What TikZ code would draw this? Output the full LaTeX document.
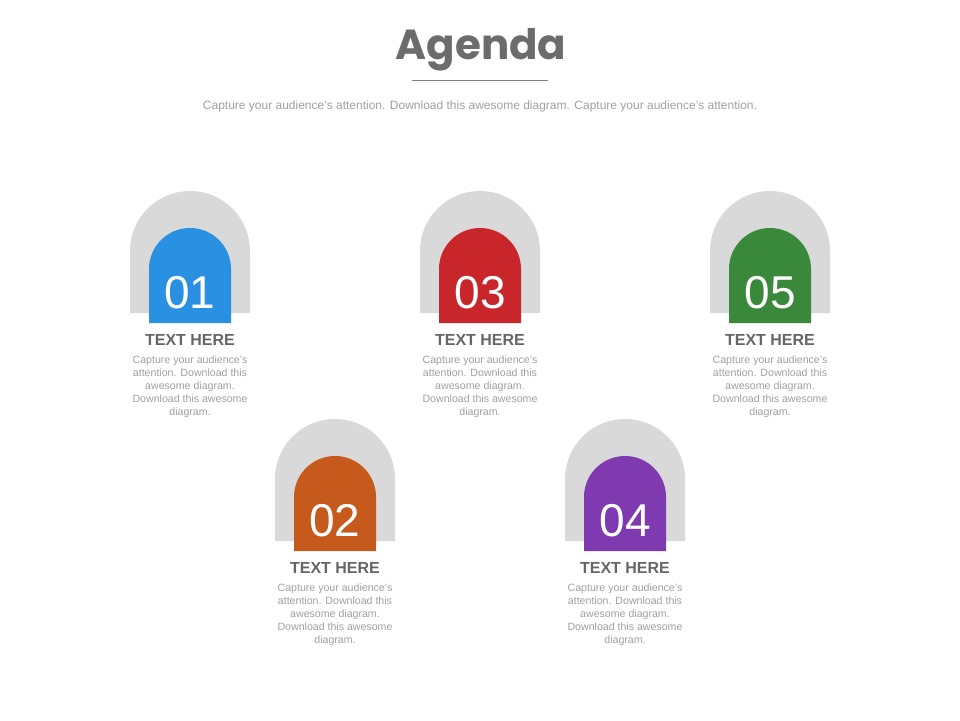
\documentclass[tikz,border=0pt]{standalone}
\usepackage{fontspec}
\setmainfont{Liberation Sans}
\newfontfamily\agendafont{Poppins}
\usepackage{tikz}
\usetikzlibrary{positioning}
\definecolor{archgrey}{RGB}{217,217,217}
\definecolor{titlegrey}{RGB}{108,108,108}
\definecolor{headgrey}{RGB}{102,102,102}
\definecolor{bodygrey}{RGB}{160,160,160}
\definecolor{rulegrey}{RGB}{128,128,128}
\definecolor{agblue}{RGB}{42,144,226}
\definecolor{agorange}{RGB}{197,90,28}
\definecolor{agred}{RGB}{200,38,42}
\definecolor{agpurple}{RGB}{128,58,176}
\definecolor{aggreen}{RGB}{58,137,58}
\tikzset{numtext/.style={text=white, font=\fontsize{46}{46}\selectfont, inner sep=0pt, anchor=base},
 headtext/.style={text=headgrey, font=\bfseries\fontsize{16}{16}\selectfont, inner sep=0pt},
 bodytext/.style={text=bodygrey, font=\fontsize{10.6}{13}\selectfont, align=center, inner sep=0pt}}

\begin{document}
\begin{tikzpicture}[x=1pt, y=-1pt]
\useasboundingbox (0, 0) rectangle (960, 720);
\fill[white] (0, 0) rectangle (960, 720);
 \node[text=titlegrey, font=\agendafont\bfseries\fontsize{42}{42}\selectfont, inner sep=0pt, anchor=base] (title) at (481, 59) {Agenda};
 \coordinate (rulel) at (412, 80);
 \coordinate (ruler) at (548, 80);
 \draw[rulegrey, line width=1] (rulel) -- (ruler);
 \node[text=bodygrey, font=\fontsize{12}{12}\selectfont, inner sep=0pt] (subtitle) at (480, 106) {Capture your audience's attention. Download this awesome diagram. Capture your audience's attention.};
\foreach \n/\x/\dy/\c in {01/190/0/agblue, 02/335/228/agorange, 03/480/0/agred, 04/625/228/agpurple, 05/770/0/aggreen}{
 \fill[archgrey] (\x-60, 313+\dy) -- (\x-60, 251+\dy) arc[start angle=180, end angle=360, radius=60] -- (\x+60, 313+\dy) -- cycle;
 \fill[\c] (\x-41, 323+\dy) -- (\x-41, 269+\dy) arc[start angle=180, end angle=360, radius=41] -- (\x+41, 323+\dy) -- cycle;
 \node[numtext] (num\n) at (\x, 308+\dy) {\n};
 \node[headtext] (head\n) at (\x, 340+\dy) {TEXT HERE};
 \node[bodytext, below=10pt of head\n] (body\n) {Capture your audience's\\attention. Download this\\awesome diagram.\\Download this awesome\\diagram.};
}
\end{tikzpicture}
\end{document}
